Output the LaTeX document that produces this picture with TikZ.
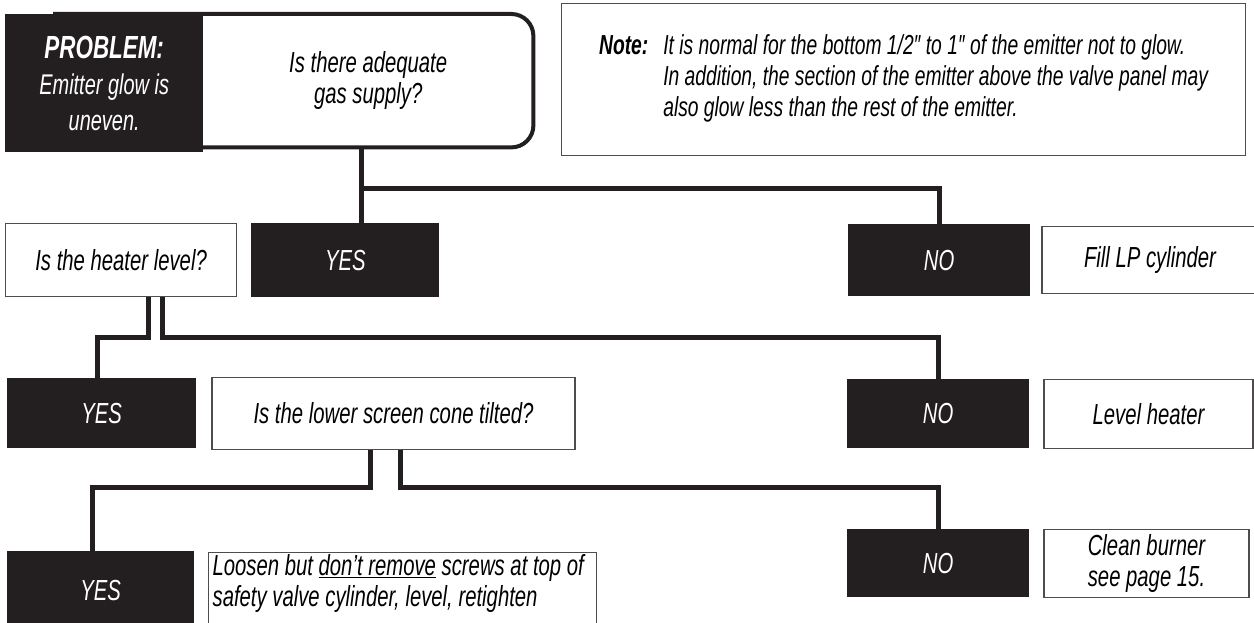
\documentclass[tikz,border=0pt]{standalone}
\usepackage{fontspec}
\newfontfamily\condfont[FakeStretch=0.7]{Liberation Sans}
\usetikzlibrary{positioning}
\definecolor{ink}{HTML}{231F20}

\begin{document}
\begin{tikzpicture}[x=1pt, y=-1pt, node distance=13pt,
	every node/.style={font=\condfont\itshape\fontsize{29}{31}\selectfont, inner sep=0pt, align=center},
	darkbox/.style={fill=ink, text=white},
	lightbox/.style={draw=ink!80, line width=1.2pt, fill=white},
	conn/.style={draw=ink, line width=5pt}]
	\useasboundingbox (0,0) rectangle (1254,623);
	% top row
	\node[anchor=north west, minimum width=330pt, minimum height=133pt] (q) at (203,14) {Is there adequate\\gas supply?};
	\draw[draw=ink, line width=4pt, rounded corners=22pt] ([xshift=-150pt]q.north west) -- (q.north east) -- (q.south east) -- ([xshift=-150pt]q.south west);
	\node[darkbox, anchor=north west, minimum width=198pt, minimum height=138pt, font=\condfont\itshape\fontsize{28.5}{36}\selectfont] (prob) at (5,14) {{\bfseries\fontsize{32}{36}\selectfont PROBLEM:}\\Emitter glow is\\uneven.};
	\node[lightbox, anchor=north west, minimum width=684pt, minimum height=152pt, font=\condfont\itshape\fontsize{27.5}{31}\selectfont] (note) at (561,3) {\begin{tabular}{@{}l@{\hspace{15pt}}l@{}}
		\textbf{Note:} & It is normal for the bottom 1/2″ to 1″ of the emitter not to glow.\\
		& In addition, the section of the emitter above the valve panel may\\
		& also glow less than the rest of the emitter.
	\end{tabular}};
	% gas supply answers
	\node[lightbox, anchor=north west, minimum width=231pt, minimum height=73pt] (heat) at (5,223) {Is the heater level?};
	\node[darkbox, right=14pt of heat, minimum width=188pt, minimum height=74pt] (yes1) {YES};
	\node[darkbox, anchor=north west, minimum width=182pt, minimum height=72pt] (no1) at (848,224) {NO};
	\node[lightbox, right=11pt of no1, minimum width=216pt, minimum height=67pt] (fill) {Fill LP cylinder};
	% heater level answers
	\node[darkbox, anchor=north west, minimum width=189pt, minimum height=70pt] (yes2) at (7,378) {YES};
	\node[lightbox, right=15pt of yes2, minimum width=363pt, minimum height=72pt] (cone) {Is the lower screen cone tilted?};
	\node[darkbox, anchor=north west, minimum width=182pt, minimum height=69pt] (no2) at (847,379) {NO};
	\node[lightbox, right=14pt of no2, minimum width=209pt, minimum height=69pt] (lvl) {Level heater};
	% screen cone answers
	\node[darkbox, anchor=north west, minimum width=187pt, minimum height=78pt] (yes3) at (7,551) {YES};
	\node[lightbox, anchor=north west, inner xsep=4pt, inner ysep=2pt, align=left] (loosen) at (208,552) {\parbox[t][90pt][t]{380pt}{\raggedright Loosen but \underline{don’t remove} screws at top of\\safety valve cylinder, level, retighten}};
	\node[darkbox, anchor=north west, minimum width=182pt, minimum height=68pt] (no3) at (847,529) {NO};
	\node[lightbox, right=14pt of no3, minimum width=205pt, minimum height=68pt] (clean) {Clean burner\\see page 15.};
	% connectors
	\draw[conn] ([xshift=-7pt]q.south) -- ([xshift=-7pt]q.south |- yes1.north);
	\draw[conn] ([xshift=-7pt]q.south) -- ++(0,41) -| (no1.north);
	\draw[conn] ([xshift=27pt]heat.south) -- ++(0,40) -| ([xshift=-4pt]yes2.north);
	\draw[conn] ([xshift=41pt]heat.south) -- ++(0,40) -| (no2.north);
	\draw[conn] ([xshift=-23pt]cone.south) -- ++(0,38) -| ([xshift=-8pt]yes3.north);
	\draw[conn] ([xshift=7pt]cone.south) -- ++(0,38) -| (no3.north);
\end{tikzpicture}
\end{document}
